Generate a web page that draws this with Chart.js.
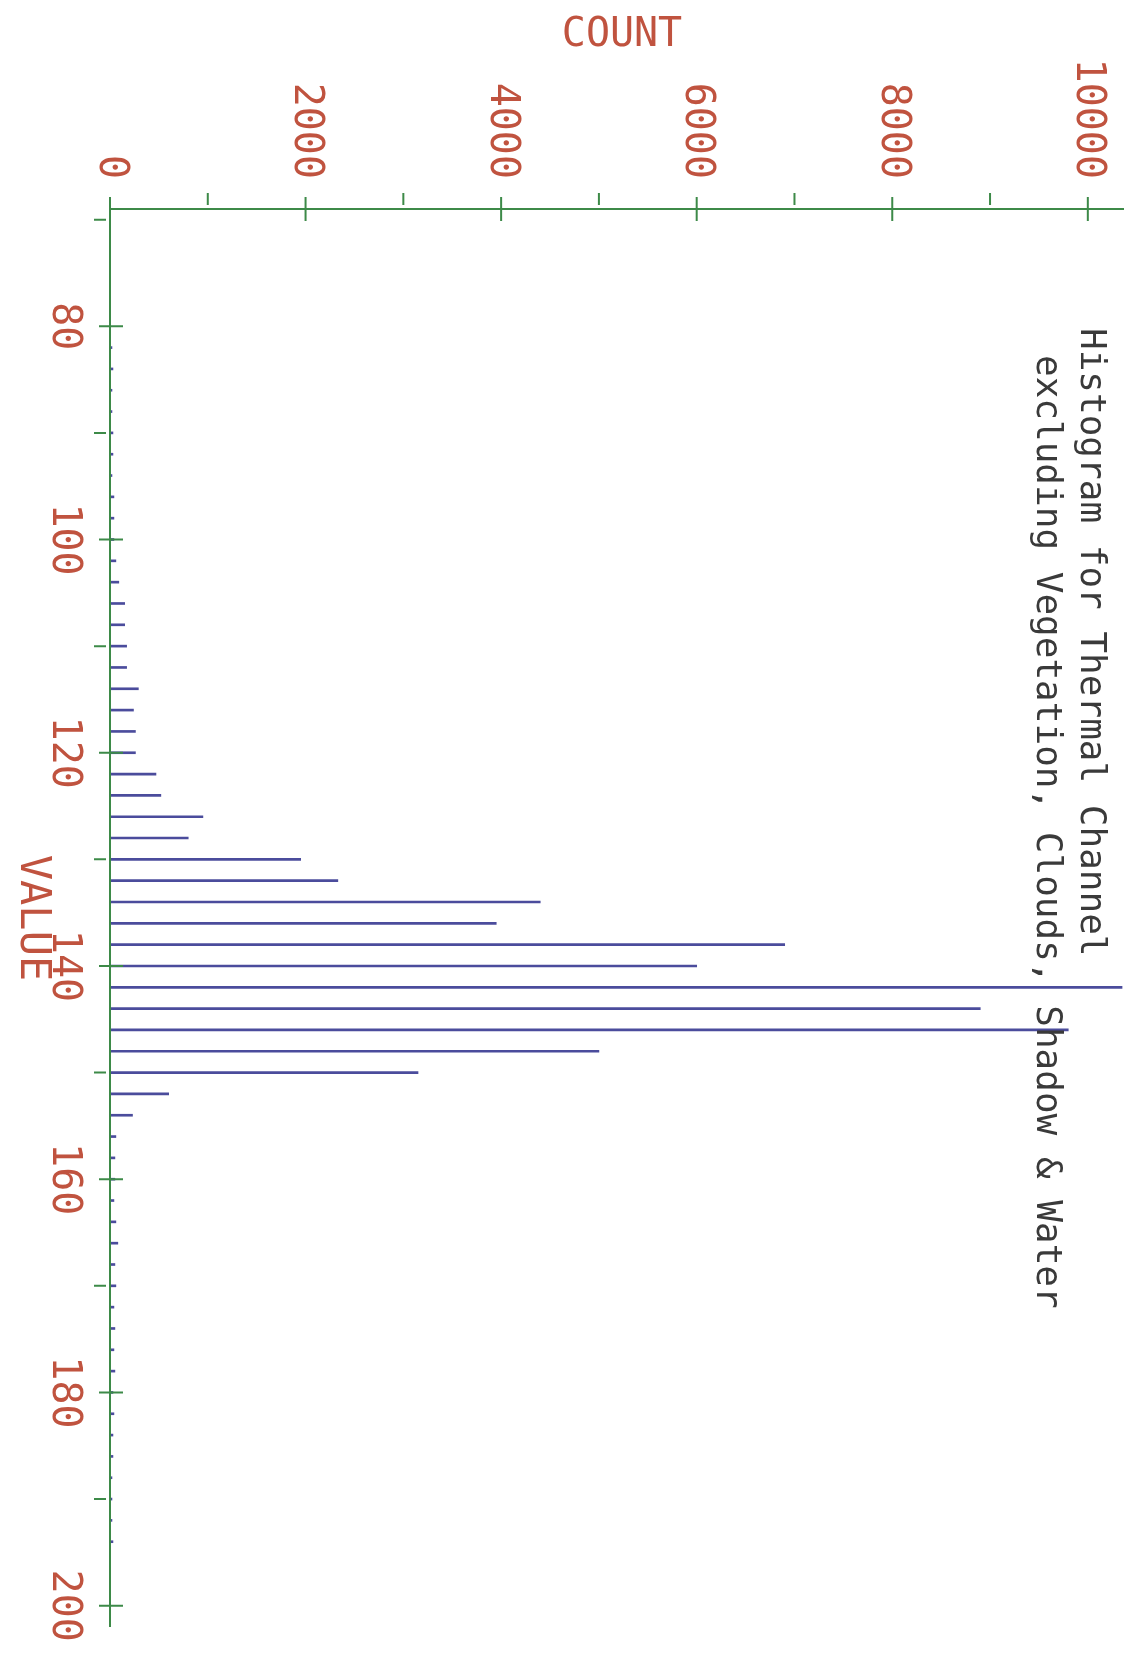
<!DOCTYPE html>
<html>
<head>
<meta charset="utf-8">
<script src="https://cdn.jsdelivr.net/npm/chart.js@4.4.1/dist/chart.umd.min.js"></script>
<style>
  html, body { margin: 0; padding: 0; background: #ffffff; }
  #graph { display: block; }
</style>
</head>
<body>
<canvas id="graph" width="1136" height="1660"></canvas>
<script>
// Histogram data: pixel value (every 2) and count
var values = [82, 84, 86, 88, 90, 92, 94, 96, 98, 100,
              102, 104, 106, 108, 110, 112, 114, 116, 118, 120,
              122, 124, 126, 128, 130, 132, 134, 136, 138, 140,
              142, 144, 146, 148, 150, 152, 154, 156, 158, 160,
              162, 164, 166, 168, 170, 172, 174, 176, 178, 180,
              182, 184, 186, 188, 190, 192, 194];
var counts = [20, 30, 20, 20, 30, 30, 20, 40, 40, 40,
              60, 90, 150, 150, 170, 170, 290, 240, 260, 260,
              470, 520, 950, 800, 1950, 2330, 4400, 3950, 6900, 6000,
              10350, 8900, 9800, 5000, 3150, 600, 230, 60, 50, 50,
              40, 60, 80, 50, 60, 40, 50, 40, 50, 30,
              40, 30, 30, 20, 20, 20, 30];

// Axis ticks
var countTicks = [0, 2000, 4000, 6000, 8000, 10000];
var countMinorTicks = [1000, 3000, 5000, 7000, 9000];
var valueTicks = [80, 100, 120, 140, 160, 180, 200];
var valueMinorTicks = [70, 90, 110, 130, 150, 170, 190];

var titleLines = ['Histogram for Thermal Channel', 'excluding Vegetation, Clouds, Shadow & Water'];

var green = '#3d8a48';
var red = '#c0533f';

// Axes, labels and titles drawn rotated like the original plot
var plotterAxes = {
    id: 'plotterAxes',
    afterDatasetsDraw: function (chart) {
        var ctx = chart.ctx;
        var xs = chart.scales.x;
        var ys = chart.scales.y;
        var area = chart.chartArea;
        var x0 = xs.getPixelForValue(0);
        var yTop = area.top;

        ctx.save();
        ctx.strokeStyle = green;
        ctx.lineWidth = 2;
        ctx.beginPath();
        // count axis (top)
        ctx.moveTo(x0, yTop);
        ctx.lineTo(area.right, yTop);
        // value axis (left)
        ctx.moveTo(x0, yTop - 11);
        ctx.lineTo(x0, area.bottom);
        countTicks.forEach(function (t) {
            var px = xs.getPixelForValue(t);
            ctx.moveTo(px, yTop - 12);
            ctx.lineTo(px, yTop + 12);
        });
        countMinorTicks.forEach(function (t) {
            var px = xs.getPixelForValue(t);
            ctx.moveTo(px, yTop - 16);
            ctx.lineTo(px, yTop - 4);
        });
        valueTicks.forEach(function (t) {
            var py = ys.getPixelForValue(t);
            ctx.moveTo(x0 - 11, py);
            ctx.lineTo(x0 + 13, py);
        });
        valueMinorTicks.forEach(function (t) {
            var py = ys.getPixelForValue(t);
            ctx.moveTo(x0 - 16, py);
            ctx.lineTo(x0 - 4, py);
        });
        ctx.stroke();

        // tick labels, rotated a quarter turn clockwise
        ctx.fillStyle = red;
        ctx.font = '40px "DejaVu Sans Mono"';
        ctx.textBaseline = 'middle';
        countTicks.forEach(function (t) {
            ctx.save();
            ctx.translate(xs.getPixelForValue(t), yTop - 30);
            ctx.rotate(Math.PI / 2);
            ctx.textAlign = 'right';
            ctx.fillText(String(t), 0, 0);
            ctx.restore();
        });
        valueTicks.forEach(function (t) {
            ctx.save();
            ctx.translate(63, ys.getPixelForValue(t));
            ctx.rotate(Math.PI / 2);
            ctx.textAlign = 'center';
            ctx.fillText(String(t), 0, 0);
            ctx.restore();
        });

        // axis titles
        ctx.font = '40px "DejaVu Sans Mono"';
        ctx.textAlign = 'center';
        ctx.fillText('COUNT', 622, 36);
        ctx.save();
        ctx.translate(32, 918);
        ctx.rotate(Math.PI / 2);
        ctx.font = '42px "DejaVu Sans Mono"';
        ctx.fillText('VALUE', 0, 0);
        ctx.restore();

        // chart title, two rotated lines
        ctx.fillStyle = '#3a3a3a';
        ctx.font = '36px "DejaVu Sans Mono"';
        ctx.textAlign = 'left';
        ctx.save();
        ctx.translate(1090, 328);
        ctx.rotate(Math.PI / 2);
        ctx.fillText(titleLines[0], 0, 0);
        ctx.restore();
        ctx.save();
        ctx.translate(1046, 355);
        ctx.rotate(Math.PI / 2);
        ctx.fillText(titleLines[1], 0, 0);
        ctx.restore();
        ctx.restore();
    }
};

var points = values.map(function (v, i) { return { x: counts[i], y: v }; });

var chart = new Chart(document.getElementById('graph'), {
    type: 'bar',
    data: {
        datasets: [{
            label: 'Count',
            data: points,
            backgroundColor: '#4b4c9c',
            borderWidth: 0,
            barThickness: 2
        }]
    },
    options: {
        indexAxis: 'y',
        responsive: false,
        animation: false,
        devicePixelRatio: 1,
        layout: { padding: { left: 110, top: 209, right: 12, bottom: 33 } },
        scales: {
            x: { type: 'linear', min: 0, max: 10370, display: false },
            y: { type: 'linear', min: 69, max: 202, reverse: true, offset: false, display: false }
        },
        plugins: {
            legend: { display: false },
            tooltip: { enabled: false }
        }
    },
    plugins: [plotterAxes]
});
</script>
</body>
</html>
